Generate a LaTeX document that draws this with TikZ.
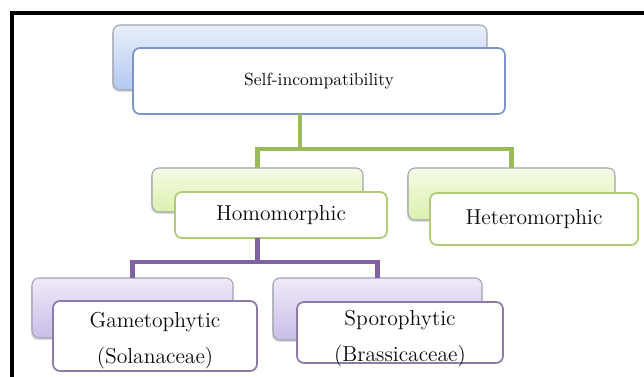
\documentclass[tikz,border=0pt]{standalone}
\usepackage{tikz}
\usetikzlibrary{shadows, calc}
\usepackage{xcolor}
\definecolor{BlueTop}{HTML}{E8EFFB}
\definecolor{BlueBot}{HTML}{B3C9F0}
\definecolor{BlueEdge}{HTML}{7D95C6}
\definecolor{GreenTop}{HTML}{F5FBE6}
\definecolor{GreenBot}{HTML}{DCF0AE}
\definecolor{GreenEdge}{HTML}{AFCB7A}
\definecolor{GreenLine}{HTML}{9BBB59}
\definecolor{PurpleTop}{HTML}{EFEAF8}
\definecolor{PurpleBot}{HTML}{CBBDE8}
\definecolor{PurpleEdge}{HTML}{8B7AAA}
\definecolor{PurpleLine}{HTML}{7E62A3}
\definecolor{BackEdge}{HTML}{9EA3AD}
\definecolor{TextDark}{HTML}{0A0A0A}
\tikzset{
    backbox/.style 2 args={
        draw=BackEdge,
        line width=0.6pt,
        top color=#1,
        bottom color=#2,
        rounded corners=4pt,
        inner sep=0pt,
        outer sep=0pt,
        drop shadow={shadow xshift=-0.6pt, shadow yshift=-1.2pt, opacity=0.25}
    },
    frontbox/.style={
        draw=#1,
        line width=1pt,
        fill=white,
        rounded corners=4pt,
        inner sep=0pt,
        outer sep=0pt,
        text=TextDark,
        align=center,
        font=\fontsize{12.3}{20.5}\selectfont
    },
    boxtext/.style={
        inner sep=0pt,
        text=TextDark,
        align=center,
        font=\fontsize{12.3}{20.5}\selectfont
    },
    conn/.style={
        line width=2.8pt,
        draw=#1
    }
}

\begin{document}
\begin{tikzpicture}
        \useasboundingbox (0,0) rectangle (12.88,-7.54);
        \fill[white] (0,0) rectangle (12.88,-7.54);

        % Frame
        \begin{scope}
            \clip (0,0) rectangle (12.88,-7.54);
            \draw[line width=2.2pt] (0.24,-0.26) rectangle (13.3,-8);
        \end{scope}

        % Top level
        \node[backbox={BlueTop}{BlueBot}, minimum width=7.48cm, minimum height=1.3cm] (selfBack) at (6.00,-1.15) {};
        \node[frontbox=BlueEdge, minimum width=7.44cm, minimum height=1.32cm, font=\fontsize{10}{12}\selectfont] (self) at (6.38,-1.62) {Self-incompatibility};

        % Second level
        \node[backbox={GreenTop}{GreenBot}, minimum width=4.22cm, minimum height=0.88cm] (homBack) at (5.15,-3.80) {};
        \node[frontbox=GreenEdge, minimum width=4.24cm, minimum height=0.92cm] (hom) at (5.62,-4.30) {Homomorphic};
        \node[backbox={GreenTop}{GreenBot}, minimum width=4.14cm, minimum height=1.04cm] (hetBack) at (10.23,-3.88) {};
        \node[frontbox=GreenEdge, minimum width=4.16cm, minimum height=1.04cm] (het) at (10.68,-4.38) {Heteromorphic};

        % Third level
        \node[backbox={PurpleTop}{PurpleBot}, minimum width=4.02cm, minimum height=1.2cm] (gamBack) at (2.65,-6.16) {};
        \node[frontbox=PurpleEdge, minimum width=4.08cm, minimum height=1.4cm] (gam) at (3.10,-6.72) {};
        \node[boxtext] (gamText) at ($(gam.center)+(0,-0.1)$) {Gametophytic\\(Solanaceae)};
        \node[backbox={PurpleTop}{PurpleBot}, minimum width=4.18cm, minimum height=1.24cm] (spoBack) at (7.55,-6.18) {};
        \node[frontbox=PurpleEdge, minimum width=4.12cm, minimum height=1.22cm] (spo) at (8.00,-6.65) {};
        \node[boxtext] (spoText) at ($(spo.center)+(0,-0.12)$) {Sporophytic\\(Brassicaceae)};

        % Connectors
        \coordinate (greenJoin) at ($(self.south -| selfBack.center)+(0,-0.7)$);
        \draw[conn=GreenLine] (self.south -| selfBack.center) -- (greenJoin);
        \draw[conn=GreenLine] (greenJoin) -| (homBack.north);
        \draw[conn=GreenLine] (greenJoin) -| (hetBack.north);
        \coordinate (purpleJoin) at ($(hom.south -| homBack.center)+(0,-0.48)$);
        \draw[conn=PurpleLine] (hom.south -| homBack.center) -- (purpleJoin);
        \draw[conn=PurpleLine] (purpleJoin) -| (gamBack.north);
        \draw[conn=PurpleLine] (purpleJoin) -| (spoBack.north);
    \end{tikzpicture}
\end{document}
